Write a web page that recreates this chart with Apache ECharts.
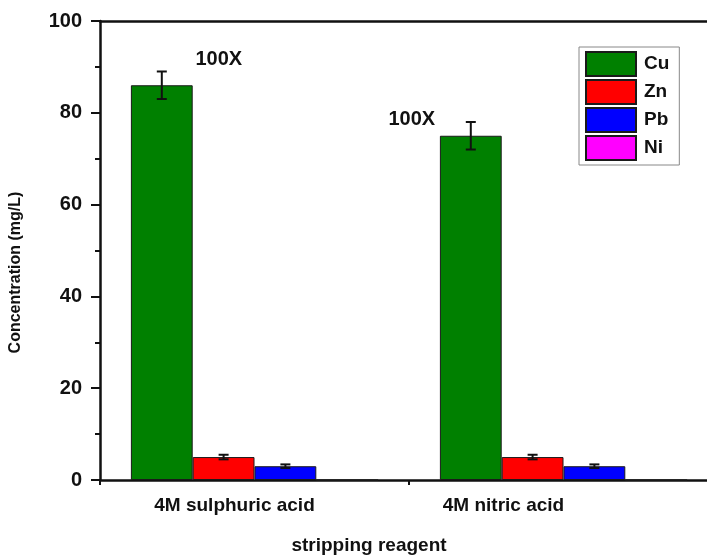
<!DOCTYPE html>
<html>
<head>
<meta charset="utf-8">
<script src="https://cdn.jsdelivr.net/npm/echarts@6/dist/echarts.min.js"></script>
<style>
  html, body { margin: 0; padding: 0; background: #fff; }
  #chart { width: 707px; height: 555px; }
</style>
</head>
<body>
<div id="chart"></div>
<script>
// Stripping reagents on the x axis
const categories = ['4M sulphuric acid', '4M nitric acid'];
// Metal names (series)
const metals = ['Cu', 'Zn', 'Pb', 'Ni'];
// Measured concentrations (mg/L) per reagent
const cuValues = [86, 75];
const znValues = [5, 5];
const pbValues = [3, 3];
const niValues = [0, 0];
// Standard deviations (mg/L)
const cuErrors = [3, 3];
const znErrors = [0.5, 0.5];
const pbErrors = [0.4, 0.4];
const niErrors = [0, 0];
// Dilution notes written beside the Cu bars
const dilutionNotes = ['100X', '100X'];
// Y-axis ticks
const yTicks = [0, 20, 40, 60, 80, 100];

const seriesValues = [cuValues, znValues, pbValues, niValues];
const seriesErrors = [cuErrors, znErrors, pbErrors, niErrors];
const colors = ['#008000', '#ff0000', '#0000ff', '#ff00ff'];
const FONT = '"Liberation Sans", Arial, sans-serif';

const noteOffsets = [[57, -11], [-59, -1]];

const barSeries = metals.map((m, i) => ({
  name: m,
  type: 'bar',
  xAxisIndex: 0,
  barGap: '0%',
  barCategoryGap: '20%',
  itemStyle: { color: colors[i], borderColor: '#1a1a1a', borderWidth: 1 },
  data: seriesValues[i].map((v, k) => {
    if (i === 0) {
      return {
        value: v,
        label: {
          show: true, position: 'top', formatter: dilutionNotes[k],
          offset: noteOffsets[k], fontFamily: FONT, fontWeight: 'bold',
          fontSize: 20, color: '#111'
        }
      };
    }
    return v;
  })
}));

function errorRenderer(i) {
  return function (params, api) {
    const c = api.value(0), v = api.value(1), e = api.value(2);
    if (!e) return null;
    const band = api.size([1, 0])[0];
    const x = api.coord([c, v])[0] + (i - 1.5) * band * 0.2;
    const yTop = api.coord([c, v + e])[1];
    const yBot = api.coord([c, v - e])[1];
    const hw = 5;
    const style = { stroke: '#111', lineWidth: 2 };
    return {
      type: 'group',
      children: [
        { type: 'line', shape: { x1: x, y1: yTop, x2: x, y2: yBot }, style },
        { type: 'line', shape: { x1: x - hw, y1: yTop, x2: x + hw, y2: yTop }, style },
        { type: 'line', shape: { x1: x - hw, y1: yBot, x2: x + hw, y2: yBot }, style }
      ]
    };
  };
}

const errSeries = metals.map((m, i) => ({
  name: m + ' error',
  type: 'custom',
  xAxisIndex: 0,
  renderItem: errorRenderer(i),
  encode: { x: 0, y: 1 },
  z: 5,
  data: seriesValues[i].map((v, k) => [k, v, seriesErrors[i][k]])
}));

const chart = echarts.init(document.getElementById('chart'), null, { renderer: 'canvas' });
chart.setOption({
  backgroundColor: '#fff',
  animation: false,
  // plot area runs past the right edge of the canvas
  grid: { left: 100, width: 618, top: 21, height: 459, containLabel: false, outerBoundsMode: 'none' },
  legend: {
    data: metals,
    orient: 'vertical',
    left: 579, top: 47,
    itemWidth: 50, itemHeight: 24, itemGap: 2,
    padding: [4, 10, 4, 6],
    borderColor: '#888', borderWidth: 1,
    icon: 'rect',
    textStyle: { fontFamily: FONT, fontWeight: 'bold', fontSize: 19, lineHeight: 24, color: '#111', padding: [0, 0, 0, 3] }
  },
  xAxis: [
    {
      type: 'category', position: 'bottom', data: categories,
      name: 'stripping reagent', nameLocation: 'middle', nameGap: 56,
      nameTextStyle: { fontFamily: FONT, fontWeight: 'bold', fontSize: 19, color: '#111', padding: [0, 80, 0, 0] },
      axisLine: { lineStyle: { color: '#111', width: 2.5 } },
      axisTick: { alignWithLabel: true, length: 9, lineStyle: { color: '#111', width: 2 } },
      axisLabel: {
        margin: 16, color: '#111', fontFamily: FONT, fontWeight: 'bold', fontSize: 19,
        formatter: (v, idx) => '{c' + idx + '|' + v + '}',
        rich: {
          c0: { fontFamily: FONT, fontWeight: 'bold', fontSize: 19, color: '#111', padding: [0, 40, 0, 0] },
          c1: { fontFamily: FONT, fontWeight: 'bold', fontSize: 19, color: '#111', padding: [0, 120, 0, 0] }
        }
      },
      splitLine: { show: false }
    },
    {
      type: 'category', position: 'top', data: categories,
      axisLine: { lineStyle: { color: '#111', width: 2.5 } },
      axisTick: { show: false }, axisLabel: { show: false }, splitLine: { show: false }
    },
    {
      type: 'category', position: 'bottom', data: categories,
      axisLine: { show: false },
      axisTick: { show: true, length: 5, lineStyle: { color: '#111', width: 2 } },
      axisLabel: { show: false }, splitLine: { show: false }
    }
  ],
  yAxis: {
    type: 'value', min: yTicks[0], max: yTicks[yTicks.length - 1], interval: 20,
    name: 'Concentration (mg/L)', nameLocation: 'middle', nameGap: 76, nameRotate: 90,
    nameTextStyle: { fontFamily: FONT, fontWeight: 'bold', fontSize: 16, color: '#111', padding: [0, 44, 0, 0] },
    axisLine: { show: true, lineStyle: { color: '#111', width: 2.5 } },
    axisTick: { show: true, length: 9, lineStyle: { color: '#111', width: 2 } },
    minorTick: { show: true, splitNumber: 2, length: 5, lineStyle: { color: '#111', width: 2 } },
    axisLabel: { margin: 18, color: '#111', fontFamily: FONT, fontWeight: 'bold', fontSize: 20 },
    splitLine: { show: false }
  },
  series: barSeries.concat(errSeries)
});
</script>
</body>
</html>
